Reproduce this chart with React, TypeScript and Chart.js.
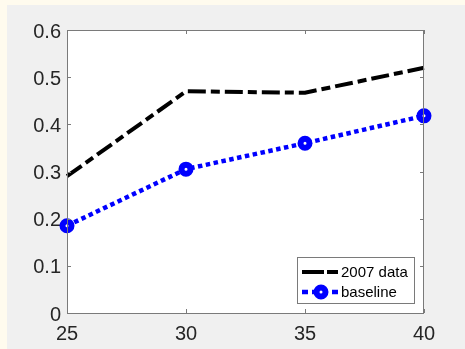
import React, { useEffect, useRef } from "react";
import { Chart, registerables } from "chart.js";
Chart.register(...registerables);

const xValues = [25, 30, 35, 40];
const data2007 = [0.29, 0.47, 0.467, 0.52];
const baseline = [0.185, 0.305, 0.36, 0.418];
const seriesLabels = ["2007 data", "baseline"];
const yTicks = [0, 0.1, 0.2, 0.3, 0.4, 0.5, 0.6];
const xTicks = [25, 30, 35, 40];

const FONT = "'Liberation Sans', Arial, Helvetica, sans-serif";
const AXIS_COLOR = "#7a7a7a";
const TEXT_COLOR = "#262626";

const decorPlugin = {
  id: "decor",
  beforeDraw(chart: any) {
    const { ctx, width, height, chartArea } = chart;
    ctx.save();
    ctx.fillStyle = "#fffbee";
    ctx.fillRect(0, 0, width, height);
    ctx.fillStyle = "#f0f0f0";
    ctx.fillRect(7, 5, width - 7, height - 5);
    ctx.fillStyle = "#ffffff";
    ctx.fillRect(chartArea.left, chartArea.top, chartArea.right - chartArea.left, chartArea.bottom - chartArea.top);
    ctx.restore();
  },
  afterDraw(chart: any) {
    const { ctx, chartArea, scales } = chart;
    const { left, right, top, bottom } = chartArea;
    ctx.save();
    ctx.strokeStyle = AXIS_COLOR;
    ctx.lineWidth = 1;
    ctx.setLineDash([]);
    ctx.strokeRect(left + 0.5, top + 0.5, right - left - 1, bottom - top);
    const tl = 4;
    ctx.beginPath();
    yTicks.forEach((v) => {
      const y = Math.round(scales.y.getPixelForValue(v)) + 0.5;
      ctx.moveTo(left, y);
      ctx.lineTo(left + tl, y);
      ctx.moveTo(right, y);
      ctx.lineTo(right - tl, y);
    });
    xTicks.forEach((v) => {
      const x = Math.round(scales.x.getPixelForValue(v)) + 0.5;
      ctx.moveTo(x, bottom);
      ctx.lineTo(x, bottom - tl);
      ctx.moveTo(x, top);
      ctx.lineTo(x, top + tl);
    });
    ctx.stroke();

    // legend
    const lx = 297, ly = 257, lw = 117, lh = 46;
    ctx.fillStyle = "#ffffff";
    ctx.fillRect(lx, ly, lw, lh);
    ctx.strokeStyle = AXIS_COLOR;
    ctx.strokeRect(lx + 0.5, ly + 0.5, lw, lh);
    const ds = chart.data.datasets;
    const rows = [272, 292];
    ctx.font = `15px ${FONT}`;
    ctx.textBaseline = "middle";
    ctx.textAlign = "left";
    ds.forEach((d: any, i: number) => {
      const y = rows[i];
      ctx.save();
      ctx.strokeStyle = d.borderColor;
      ctx.lineWidth = d.borderWidth;
      ctx.lineCap = "butt";
      ctx.setLineDash(i === 0 ? [22, 3, 11, 3] : [6, 4]);
      ctx.beginPath();
      ctx.moveTo(302, y);
      ctx.lineTo(339, y);
      ctx.stroke();
      if (i === 1) {
        ctx.setLineDash([]);
        ctx.fillStyle = "#ffffff";
        ctx.lineWidth = d.pointBorderWidth;
        ctx.beginPath();
        ctx.arc(321, y, d.pointRadius, 0, Math.PI * 2);
        ctx.fill();
        ctx.stroke();
      }
      ctx.restore();
      ctx.fillStyle = "#000000";
      ctx.fillText(d.label, 341, y + 1);
    });
    ctx.restore();
  },
};

export default function App() {
  const ref = useRef<HTMLCanvasElement>(null);
  useEffect(() => {
    document.body.style.margin = "0";
    const chart = new Chart(ref.current!, {
      type: "line",
      data: {
        datasets: [
          {
            label: seriesLabels[0],
            data: xValues.map((x, i) => ({ x, y: data2007[i] })),
            borderColor: "#000000",
            borderWidth: 4,
            borderDash: [18, 5, 9, 5],
            borderCapStyle: "butt",
            pointRadius: 0,
            fill: false,
            tension: 0,
            clip: false,
          },
          {
            label: seriesLabels[1],
            data: xValues.map((x, i) => ({ x, y: baseline[i] })),
            borderColor: "#0000ff",
            borderWidth: 4.5,
            borderDash: [4.5, 3.5],
            borderCapStyle: "butt",
            pointStyle: "circle",
            pointRadius: 4.5,
            pointBorderWidth: 6,
            pointBackgroundColor: "#ffffff",
            pointBorderColor: "#0000ff",
            fill: false,
            tension: 0,
            clip: false,
          },
        ],
      } as any,
      options: {
        animation: false,
        responsive: false,
        maintainAspectRatio: false,
        layout: { padding: { top: 30, right: 41, left: 0, bottom: 0 } },
        plugins: { legend: { display: false }, tooltip: { enabled: false } },
        scales: {
          x: {
            type: "linear",
            min: 25,
            max: 40,
            afterFit: (s: any) => { s.height = 36; },
            afterBuildTicks: (s: any) => { s.ticks = xTicks.map((v) => ({ value: v })); },
            grid: { display: false, drawTicks: false },
            border: { display: false },
            ticks: { color: TEXT_COLOR, font: { family: FONT, size: 20 }, padding: 9, maxRotation: 0 },
          },
          y: {
            type: "linear",
            min: 0,
            max: 0.6,
            afterFit: (s: any) => { s.width = 67; },
            afterBuildTicks: (s: any) => { s.ticks = yTicks.map((v) => ({ value: v })); },
            grid: { display: false, drawTicks: false },
            border: { display: false },
            ticks: {
              color: TEXT_COLOR,
              font: { family: FONT, size: 20 },
              padding: 6,
              labelOffset: 2,
              callback: (v: any) => String(Number(Number(v).toFixed(1))),
            },
          },
        },
      } as any,
      plugins: [decorPlugin],
    });
    return () => chart.destroy();
  }, []);
  return <canvas ref={ref} width={465} height={349} style={{ display: "block" }} />;
}
